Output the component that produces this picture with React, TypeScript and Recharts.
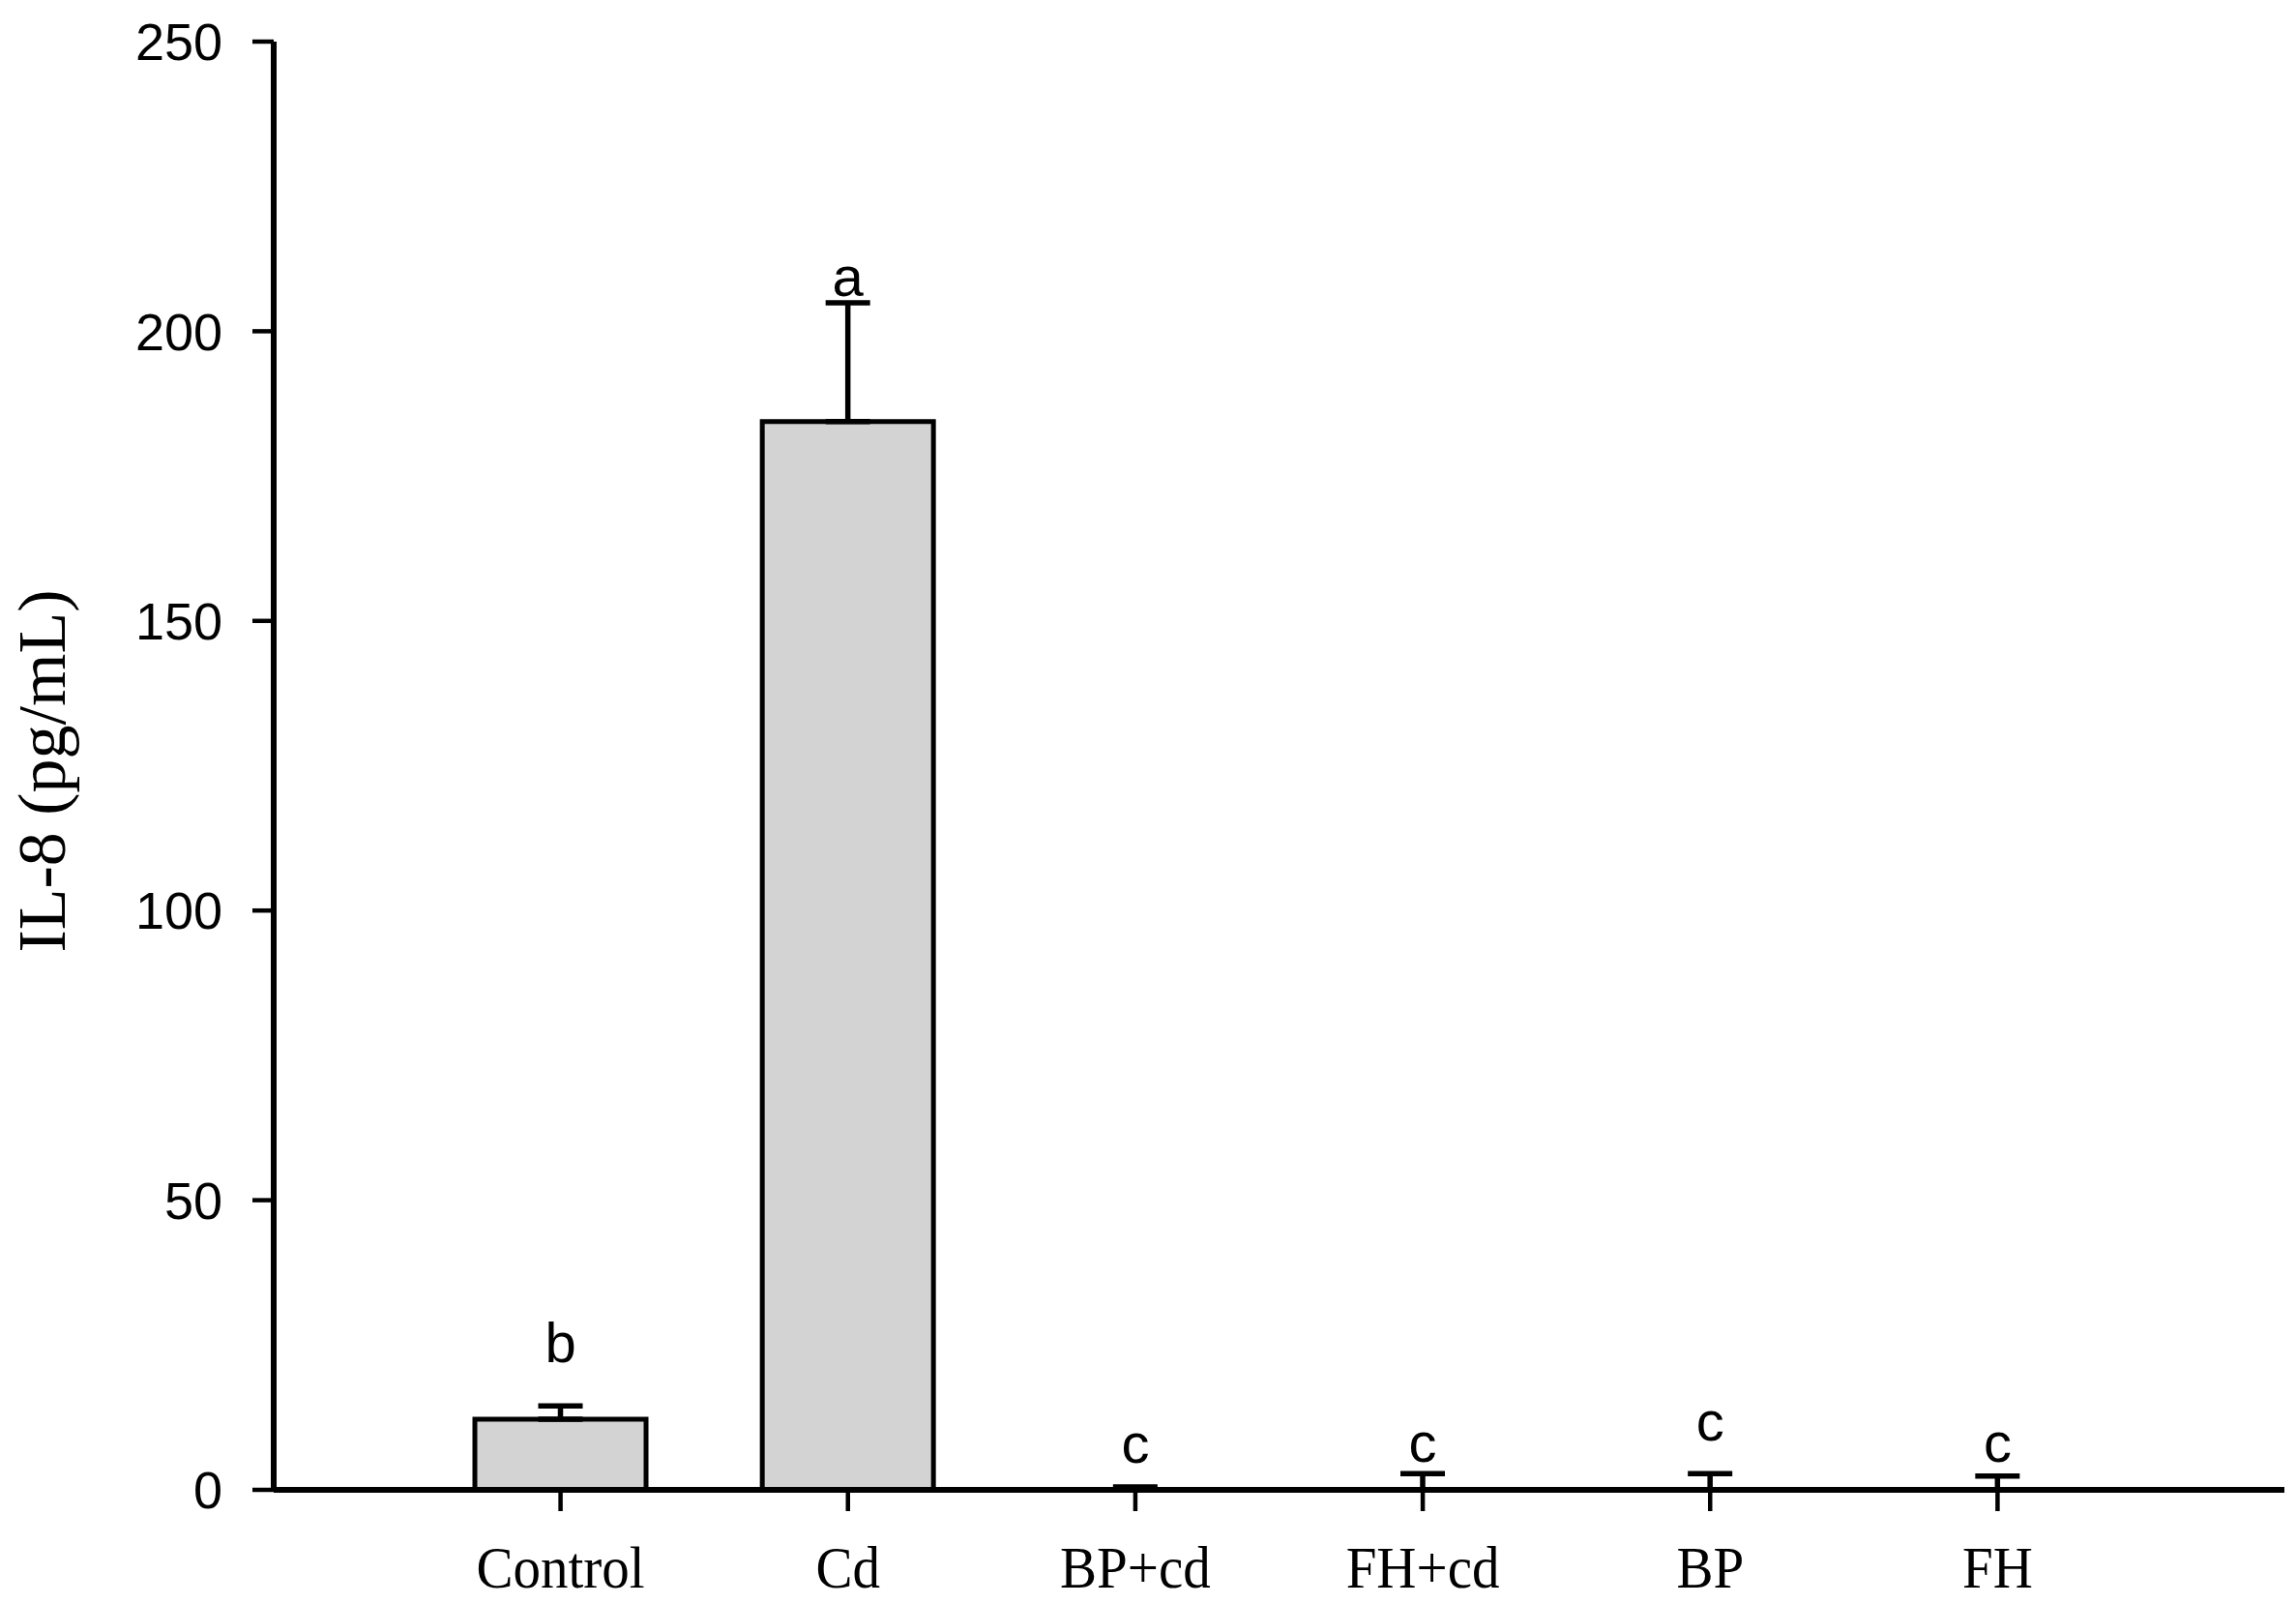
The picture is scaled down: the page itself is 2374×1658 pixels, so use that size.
import { Bar, ComposedChart, ErrorBar, Line, XAxis, YAxis } from "recharts";

// groups on the x axis
const groups = ["Control", "Cd", "BP+cd", "FH+cd", "BP", "FH"];
// IL-8 means and SE (pg/mL)
const means = [12.2, 184.4, 0.02, 0.02, 0.02, 0.02];
const errs = [2.3, 20.5, 0.48, 2.78, 2.78, 2.38];
// significance letters and the height (in pg/mL) they sit at
const letters = ["b", "a", "c", "c", "c", "c"];
const letterAt = [22.0, 206.1, 4.7, 4.8, 8.5, 4.8];
const yTicks = [0, 50, 100, 150, 200, 250];

const data = groups.map((g, i) => ({
  group: g,
  mean: means[i],
  err: [0, errs[i]],
  letter: letters[i],
  letterY: letterAt[i],
}));

const serif = "'Liberation Serif', 'Times New Roman', serif";
const sans = "'Liberation Sans', Arial, sans-serif";

function GroupTick(props: any) {
  const { x, y, payload } = props;
  return (
    <g transform={`translate(${x},${y})`}>
      <text
        transform="scale(0.92,1)"
        textAnchor="middle"
        y={79}
        fontFamily={serif}
        fontSize={62}
        fill="#000"
      >
        {payload.value}
      </text>
    </g>
  );
}

function YTitle() {
  return (
    <text
      x={67}
      y={797}
      transform="rotate(-90, 67, 797)"
      textAnchor="middle"
      fontFamily={serif}
      fontSize={70}
      fill="#000"
    >
      IL-8 (pg/mL)
    </text>
  );
}

function LetterDot(props: any) {
  const { cx, cy, payload, index } = props;
  return (
    <text
      key={`letter-${index}`}
      x={cx}
      y={cy}
      textAnchor="middle"
      fontFamily={sans}
      fontSize={58}
      fill="#000"
    >
      {payload.letter}
    </text>
  );
}

export default function App() {
  return (
    <div style={{ position: "absolute", left: 0, top: 0, background: "#fff" }}>
      <ComposedChart
        width={2374}
        height={1658}
        data={data}
        margin={{ top: 43, right: 12, bottom: 0, left: 0 }}
      >
        <XAxis
          dataKey="group"
          height={118}
          padding={{ left: 148, right: 148 }}
          axisLine={{ stroke: "#000", strokeWidth: 6 }}
          tickLine={{ stroke: "#000", strokeWidth: 4.5 }}
          tickSize={22}
          tickMargin={0}
          interval={0}
          tick={<GroupTick />}
        />
        <YAxis
          width={283}
          domain={[0, 250]}
          ticks={yTicks}
          interval={0}
          axisLine={{ stroke: "#000", strokeWidth: 6 }}
          tickLine={{ stroke: "#000", strokeWidth: 4.5 }}
          tickSize={22}
          tickMargin={31}
          tick={{ fontFamily: sans, fontSize: 54, fill: "#000" }}
          label={<YTitle />}
        />
        <Bar
          dataKey="mean"
          fill="#d3d3d3"
          stroke="#000"
          strokeWidth={5}
          barSize={177}
          isAnimationActive={false}
        >
          <ErrorBar dataKey="err" width={23} stroke="#000" strokeWidth={5.5} direction="y" />
        </Bar>
        <Line
          dataKey="letterY"
          stroke="none"
          dot={LetterDot}
          activeDot={false}
          legendType="none"
          isAnimationActive={false}
        />
      </ComposedChart>
    </div>
  );
}
